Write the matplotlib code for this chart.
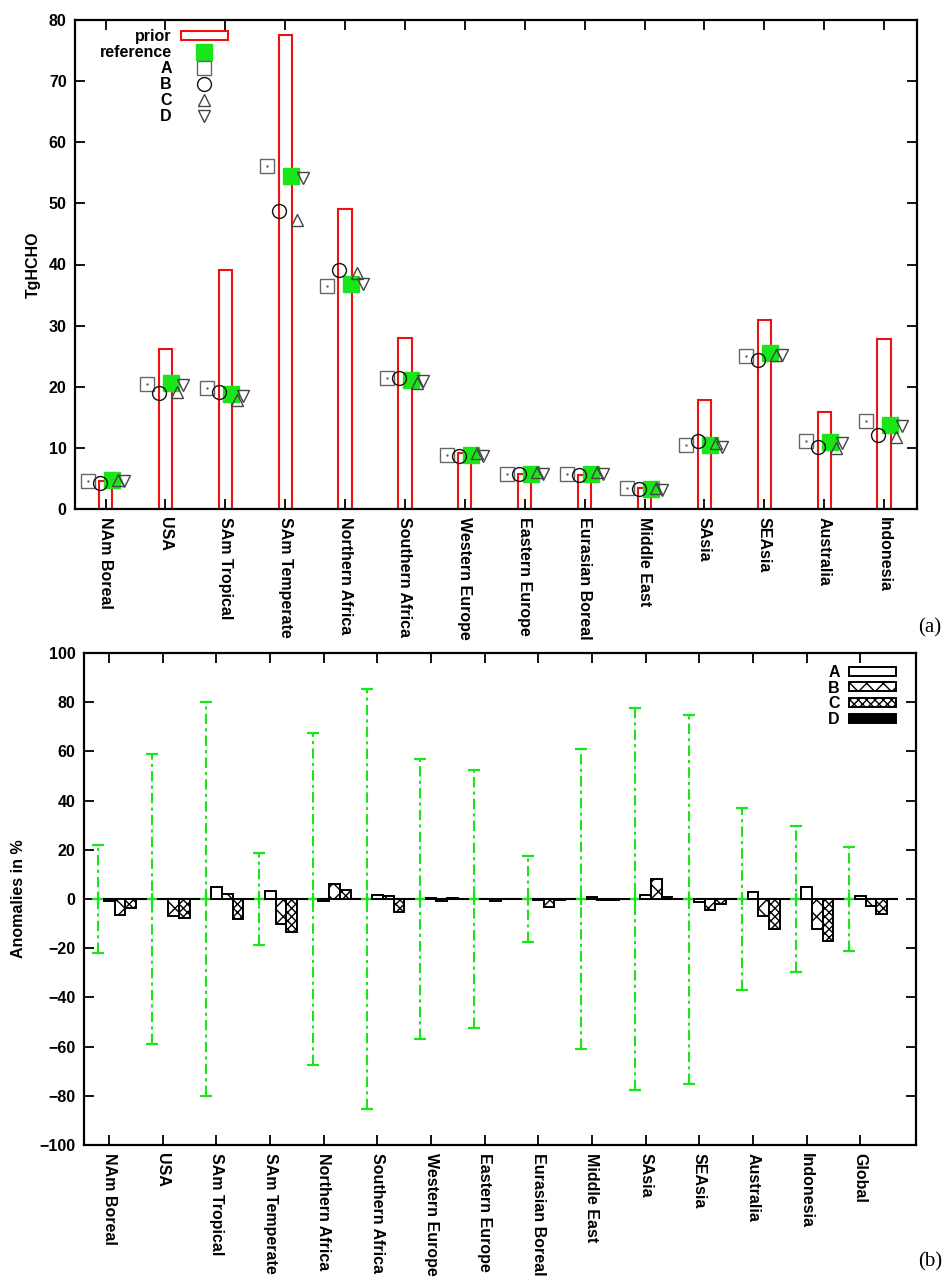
import numpy as np
import matplotlib
matplotlib.use("Agg")
from matplotlib import pyplot as plt
from matplotlib.lines import Line2D
from matplotlib.patches import Patch

plt.rcParams['font.family'] = ['Liberation Sans', 'DejaVu Sans']
plt.rcParams['font.weight'] = 'bold'
plt.rcParams['hatch.linewidth'] = 1.0

# ---- panel (a) data: TgHCHO per region
regions_a = ['NAm Boreal', 'USA', 'SAm Tropical', 'SAm Temperate', 'Northern Africa',
             'Southern Africa', 'Western Europe', 'Eastern Europe', 'Eurasian Boreal',
             'Middle East', 'SAsia', 'SEAsia', 'Australia', 'Indonesia']
prior = [4.6, 26.2, 39.1, 77.6, 49.0, 27.9, 9.1, 5.8, 5.6, 3.4, 17.8, 30.9, 15.9, 27.8]
reference = [4.7, 20.6, 18.8, 54.4, 36.8, 21.1, 8.8, 5.8, 5.8, 3.3, 10.5, 25.6, 11.0, 13.7]
inv_A = [4.6, 20.4, 19.8, 56.1, 36.5, 21.5, 8.8, 5.8, 5.7, 3.4, 10.5, 25.1, 11.2, 14.4]
inv_B = [4.3, 19.0, 19.2, 48.8, 39.1, 21.4, 8.7, 5.7, 5.6, 3.3, 11.1, 24.4, 10.2, 12.1]
inv_C = [4.7, 19.2, 17.8, 47.3, 38.6, 20.6, 9.1, 6.0, 6.0, 3.4, 10.8, 25.2, 9.9, 11.8]
inv_D = [4.5, 20.3, 18.5, 54.2, 36.8, 21.0, 8.7, 5.7, 5.7, 3.1, 10.2, 25.2, 10.8, 13.5]

# ---- panel (b) data: anomalies in %
regions_b = regions_a + ['Global']
uncert = [22, 59, 80, 18.5, 67.5, 85.5, 57, 52.5, 17.5, 61, 77.5, 75, 37, 29.5, 21]
anom_A = [-0.7, 0.0, 5.0, 3.4, -1.0, 1.8, 0.3, 0.2, -0.5, 0.8, 1.6, -1.1, 3.0, 5.0, 1.3]
anom_B = [-6.6, -7.1, 2.0, -10.3, 6.2, 1.4, -0.9, -1.0, -3.4, -0.3, 8.2, -4.4, -7.1, -12.0, -2.9]
anom_C = [-3.8, -7.9, -8.2, -13.4, 3.8, -5.1, 0.3, -0.2, -0.3, -0.3, 1.0, -2.0, -12.3, -17.0, -6.1]
anom_D = [0, 0, 0, 0, 0, 0, 0, 0, 0, 0, 0, 0, 0, 0, 0]

green = '#19e619'
fs = 11.5
W, H = 946, 1280
fig = plt.figure(figsize=(W / 100, H / 100), dpi=100)


def style_axes(ax):
    for s in ax.spines.values():
        s.set_linewidth(1.6)
    ax.tick_params(direction='in', top=True, right=True, length=7, width=1.3,
                   labelsize=fs, pad=6)
    for lab in ax.get_yticklabels():
        lab.set_fontweight('bold')


# ================= (a)
ax1 = fig.add_axes([75 / W, 1 - 509 / H, 842 / W, 489 / H])
xa = np.arange(1, len(regions_a) + 1)
ax1.bar(xa, prior, width=0.22, fill=False, edgecolor='#ee1111', linewidth=1.5)
ax1.plot(xa + 0.1, reference, 's', ms=12, color=green, mec=green, zorder=3)
ax1.plot(xa - 0.3, inv_A, 's', ms=10, mfc='none', mec='#666666', mew=1.0, zorder=4)
ax1.plot(xa - 0.3, inv_A, '.', ms=1.5, color='#666666', zorder=4)
ax1.plot(xa - 0.1, inv_B, 'o', ms=10, mfc='none', mec='#111111', mew=1.0, zorder=4)
ax1.plot(xa + 0.2, inv_C, '^', ms=9, mfc='none', mec='#444444', mew=1.0, zorder=4)
ax1.plot(xa + 0.3, inv_D, 'v', ms=9, mfc='none', mec='#444444', mew=1.0, zorder=4)
ax1.set_xlim(0.49, 14.55)
ax1.set_ylim(0, 80)
ax1.set_yticks(range(0, 81, 10))
ax1.set_xticks(xa)
ax1.set_xticklabels(regions_a, rotation=-90, fontsize=fs, fontweight='bold', va='top')
ax1.set_ylabel('TgHCHO', fontsize=fs, fontweight='bold', labelpad=6)
style_axes(ax1)

h1 = [Patch(facecolor='white', edgecolor='#ee1111', linewidth=1.5),
      Line2D([], [], marker='s', ls='none', ms=12, color=green),
      Line2D([], [], marker='s', ls='none', ms=10, mfc='none', mec='#666666'),
      Line2D([], [], marker='o', ls='none', ms=10, mfc='none', mec='#111111'),
      Line2D([], [], marker='^', ls='none', ms=9, mfc='none', mec='#444444'),
      Line2D([], [], marker='v', ls='none', ms=9, mfc='none', mec='#444444')]
ax1.legend(h1, ['prior', 'reference', 'A', 'B', 'C', 'D'], loc='upper left',
           bbox_to_anchor=(0.012, 1.01), frameon=False, markerfirst=False,
           handlelength=2.9, handleheight=0.5, labelspacing=0.06,
           handletextpad=0.6, prop={'weight': 'bold', 'size': fs})

# ================= (b)
ax2 = fig.add_axes([84 / W, 1 - 1145 / H, 832 / W, 492 / H])
xb = np.arange(1, len(regions_b) + 1)
bw = 0.2
ax2.hlines(0, xb[0] - 0.3, xb[-1] + 0.7, color='black', linewidth=1.5, zorder=1)
eb = ax2.errorbar(xb - 0.2, np.zeros(len(xb)), yerr=uncert, fmt='+', ms=8, mew=1.6,
                  color=green, ecolor=green, elinewidth=1.5, capsize=4, capthick=1.5,
                  zorder=2)
eb[2][0].set_linestyle((0, (5, 2, 1.5, 2)))
ax2.bar(xb, anom_A, width=bw, facecolor='white', edgecolor='black', linewidth=1.4, zorder=3)
ax2.bar(xb + bw, anom_B, width=bw, facecolor='white', edgecolor='black', linewidth=1.4,
        hatch='xx', zorder=3)
ax2.bar(xb + 2 * bw, anom_C, width=bw, facecolor='white', edgecolor='black', linewidth=1.4,
        hatch='xxxx', zorder=3)
ax2.bar(xb + 3 * bw, anom_D, width=bw, facecolor='black', edgecolor='black', linewidth=1.4,
        zorder=3)
ax2.set_xlim(0.53, 16.04)
ax2.set_ylim(-100, 100)
ax2.set_yticks(range(-100, 101, 20))
ax2.set_xticks(xb)
ax2.set_xticklabels(regions_b, rotation=-90, fontsize=fs, fontweight='bold', va='top')
ax2.set_ylabel('Anomalies in %', fontsize=fs, fontweight='bold', labelpad=10)
style_axes(ax2)

h2 = [Patch(facecolor='white', edgecolor='black', linewidth=1.4),
      Patch(facecolor='white', edgecolor='black', linewidth=1.4, hatch='xx'),
      Patch(facecolor='white', edgecolor='black', linewidth=1.4, hatch='xxxx'),
      Patch(facecolor='black', edgecolor='black', linewidth=1.4)]
ax2.legend(h2, ['A', 'B', 'C', 'D'], loc='upper right', bbox_to_anchor=(0.993, 1.005),
           frameon=False, markerfirst=False, handlelength=2.9, handleheight=0.5,
           labelspacing=0.04, handletextpad=0.6, prop={'weight': 'bold', 'size': fs})

fig.text(930 / W, 1 - 628 / H, '(a)', family='Liberation Serif', fontsize=15,
         fontweight='normal', ha='center', va='center')
fig.text(930 / W, 1 - 1262 / H, '(b)', family='Liberation Serif', fontsize=15,
         fontweight='normal', ha='center', va='center')

fig.savefig('out.png', dpi=100)
